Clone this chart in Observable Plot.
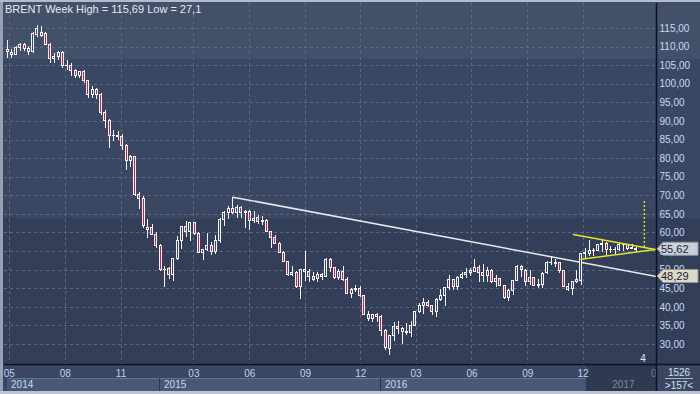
<!DOCTYPE html>
<html><head><meta charset="utf-8">
<script src="https://cdn.jsdelivr.net/npm/d3@7"></script>
<script src="https://cdn.jsdelivr.net/npm/@observablehq/plot@0.6"></script>
<style>
html,body{margin:0;padding:0;background:#3b4762;}
#chart{width:700px;height:394px;position:relative;overflow:hidden;}
svg{display:block;}
</style></head><body><div id="chart"></div>
<script>
// Weekly bars (Monday of each week)
const weeks = [
"2014-04-28","2014-05-05","2014-05-12","2014-05-19","2014-05-26","2014-06-02","2014-06-09","2014-06-16","2014-06-23","2014-06-30",
"2014-07-07","2014-07-14","2014-07-21","2014-07-28","2014-08-04","2014-08-11","2014-08-18","2014-08-25","2014-09-01","2014-09-08",
"2014-09-15","2014-09-22","2014-09-29","2014-10-06","2014-10-13","2014-10-20","2014-10-27","2014-11-03","2014-11-10","2014-11-17",
"2014-11-24","2014-12-01","2014-12-08","2014-12-15","2014-12-22","2014-12-29","2015-01-05","2015-01-12","2015-01-19","2015-01-26",
"2015-02-02","2015-02-09","2015-02-16","2015-02-23","2015-03-02","2015-03-09","2015-03-16","2015-03-23","2015-03-30","2015-04-06",
"2015-04-13","2015-04-20","2015-04-27","2015-05-04","2015-05-11","2015-05-18","2015-05-25","2015-06-01","2015-06-08","2015-06-15",
"2015-06-22","2015-06-29","2015-07-06","2015-07-13","2015-07-20","2015-07-27","2015-08-03","2015-08-10","2015-08-17","2015-08-24",
"2015-08-31","2015-09-07","2015-09-14","2015-09-21","2015-09-28","2015-10-05","2015-10-12","2015-10-19","2015-10-26","2015-11-02",
"2015-11-09","2015-11-16","2015-11-23","2015-11-30","2015-12-07","2015-12-14","2015-12-21","2015-12-28","2016-01-04","2016-01-11",
"2016-01-18","2016-01-25","2016-02-01","2016-02-08","2016-02-15","2016-02-22","2016-02-29","2016-03-07","2016-03-14","2016-03-21",
"2016-03-28","2016-04-04","2016-04-11","2016-04-18","2016-04-25","2016-05-02","2016-05-09","2016-05-16","2016-05-23","2016-05-30",
"2016-06-06","2016-06-13","2016-06-20","2016-06-27","2016-07-04","2016-07-11","2016-07-18","2016-07-25","2016-08-01","2016-08-08",
"2016-08-15","2016-08-22","2016-08-29","2016-09-05","2016-09-12","2016-09-19","2016-09-26","2016-10-03","2016-10-10","2016-10-17",
"2016-10-24","2016-10-31","2016-11-07","2016-11-14","2016-11-21","2016-11-28","2016-12-05","2016-12-12","2016-12-19","2016-12-26",
"2017-01-02","2017-01-09","2017-01-16","2017-01-23","2017-01-30","2017-02-06","2017-02-13","2017-02-20","2017-02-27"
];
const open = [
109.3,108.5,107.9,109.8,110.6,109.4,108.6,113.3,113.0,113.4,
110.6,106.7,107.2,108.4,104.8,105.0,103.5,102.3,103.2,100.8,
97.1,98.4,97.0,92.3,90.2,86.2,86.1,85.9,83.4,79.4,
80.4,70.1,69.1,60.9,61.4,59.5,56.4,50.1,50.2,48.8,
53.0,57.8,61.5,60.2,62.6,59.7,54.7,55.3,56.4,55.0,
57.9,63.4,65.3,66.5,65.4,66.8,65.4,65.6,63.3,63.9,
63.0,63.3,60.3,58.7,57.1,54.6,52.2,48.6,49.2,45.5,
50.1,49.6,48.1,47.5,48.6,48.1,52.7,50.5,48.0,49.6,
47.4,43.6,44.7,44.9,43.0,37.9,36.9,37.9,37.3,33.5,
28.9,32.2,34.7,34.1,33.4,33.0,35.1,38.7,40.4,41.2,
40.4,38.7,41.9,43.1,45.1,47.4,45.4,47.8,48.7,49.3,
49.6,50.5,49.2,48.4,49.7,46.8,47.6,45.7,42.5,44.3,
47.0,50.9,49.9,46.8,48.0,45.8,45.9,49.1,51.9,52.0,
51.8,49.7,45.6,44.8,46.9,47.2,54.5,54.3,55.2,55.2,
56.8,57.1,55.5,55.5,55.5,56.8,56.7,55.8,55.4
];
const high = [
111.8,109.3,110.2,111.0,111.0,110.1,114.0,115.69,115.5,113.9,
110.9,108.4,108.9,108.8,106.4,105.6,104.0,103.5,103.7,100.9,
99.4,98.9,97.5,93.0,90.5,87.6,87.2,86.4,83.8,80.9,
80.6,71.0,69.9,63.6,62.3,60.0,57.0,51.0,50.8,53.1,
59.1,61.7,63.0,62.9,62.9,60.0,55.6,59.8,57.4,59.2,
64.0,65.8,67.1,69.63,67.5,67.0,66.1,66.1,65.8,64.6,
64.4,63.6,60.3,59.3,57.4,54.9,52.3,51.0,49.6,50.2,
54.9,50.3,49.5,49.4,49.0,53.1,53.0,50.8,50.3,50.9,
48.0,45.1,46.0,45.6,43.1,38.9,38.2,38.3,37.9,34.0,
32.3,35.8,36.3,34.5,35.6,36.1,39.0,41.1,42.5,41.9,
40.6,42.4,44.8,45.3,48.5,47.5,48.2,49.4,50.5,50.4,
52.86,51.2,51.4,50.7,50.1,48.5,47.8,45.8,44.7,47.2,
51.2,51.2,50.2,49.9,48.1,47.6,49.3,52.3,53.73,52.9,
51.9,49.8,46.5,47.0,49.9,54.5,55.7,57.89,55.9,56.9,
58.37,57.4,56.4,56.2,57.3,57.1,57.0,56.8,56.1
];
const low = [
106.9,106.9,107.6,108.7,108.8,107.7,108.3,112.7,112.6,110.3,
105.7,105.6,106.3,104.3,103.6,102.1,101.5,101.6,100.3,96.2,
96.2,95.9,91.6,88.0,82.6,84.5,84.8,82.3,76.8,77.6,
69.8,66.4,61.3,58.5,59.3,55.7,49.7,45.2,47.5,47.0,
52.6,55.6,58.8,57.7,59.3,54.6,52.5,55.0,53.9,54.1,
57.2,61.8,63.6,64.9,63.9,63.9,61.3,60.7,62.5,62.4,
62.1,60.0,55.9,56.8,54.5,52.1,48.4,48.4,45.1,42.23,
47.0,46.6,46.9,46.6,47.1,48.0,49.4,47.4,47.1,47.0,
43.4,42.3,44.1,42.6,37.8,36.3,36.0,35.9,32.2,28.4,
27.10,30.8,32.6,30.0,32.5,32.0,34.8,38.3,38.0,39.9,
37.8,37.3,41.5,40.1,44.4,44.4,44.6,47.6,47.7,48.4,
49.4,46.7,46.7,46.6,46.4,45.3,45.5,42.0,41.5,43.3,
46.9,48.1,45.6,45.9,45.5,45.0,45.1,48.9,51.2,50.8,
49.2,45.2,44.2,43.1,46.3,46.0,53.1,53.7,53.8,55.1,
54.8,53.6,54.4,54.2,54.9,55.0,55.3,55.6,55.0
];
const close = [
108.59,107.89,109.75,110.54,109.41,108.61,113.41,114.81,113.9,110.64,
106.66,107.24,108.39,104.84,105.02,103.53,102.29,103.19,100.82,97.11,
98.39,97.00,92.31,90.21,86.16,86.13,85.86,83.39,79.41,80.36,
70.15,69.07,61.85,61.38,59.45,56.42,50.11,50.17,48.79,52.99,
57.80,61.52,60.22,62.58,59.73,54.67,55.32,56.41,54.95,57.87,
63.45,65.28,66.46,65.39,66.81,65.37,65.56,63.31,63.87,63.02,
63.26,60.32,58.73,57.10,54.62,52.21,48.61,49.19,45.46,50.05,
49.61,48.14,47.47,48.60,48.13,52.65,50.46,47.99,49.56,47.42,
43.61,44.66,44.86,43.00,37.93,36.88,37.89,37.28,33.55,28.94,
32.18,34.74,34.06,33.36,33.01,35.10,38.72,40.39,41.20,40.44,
38.67,41.94,43.10,45.11,47.37,45.37,47.83,48.72,49.32,49.64,
50.54,49.17,48.41,49.68,46.76,47.61,45.69,42.46,44.27,46.97,
50.88,49.92,46.83,48.01,45.77,45.89,49.06,51.93,51.95,51.78,
49.71,45.58,44.75,46.86,47.24,54.46,54.33,55.21,55.16,56.82,
57.10,55.45,55.49,55.52,56.81,56.70,55.81,56.01,55.62
];

const yTicks = [30,35,40,45,50,55,60,65,70,75,80,85,90,95,100,105,110,115];
const monthTicks = ["2014-05-01","2014-08-01","2014-11-01","2015-03-01","2015-06-01","2015-09-01","2015-12-01","2016-03-01","2016-06-01","2016-09-01","2016-12-01"];
const fadedMonthTicks = ["2017-04-01"];
const yearLabels = ["2014","2015","2016"];
const yearStarts = ["2014-04-28","2015-01-05","2016-01-04"];
const yearEnds = ["2015-01-05","2016-01-04","2016-12-08"];
const fadedYear = "2017";

const trendDates = ["2015-05-04","2017-04-01"];
const trendValues = [69.63, 48.29];
const triUpperDates = ["2016-11-15","2017-03-30"];
const triUpperValues = [59.6, 55.55];
const triLowerDates = ["2016-11-28","2017-03-30"];
const triLowerValues = [52.9, 55.55];
const targetDate = "2017-03-12";
const targetRange = [56.1, 68.7];
const lastPrice = 55.62;
const trendPrice = 48.29;

const title = "BRENT Week High = 115,69 Low = 27,1";

const rows = weeks.map((w, i) => ({date: new Date(w), open: open[i], high: high[i], low: low[i], close: close[i]}));
const trendRows = trendDates.map((d, i) => ({date: new Date(d), v: trendValues[i]}));
const triRows = [
  ...triUpperDates.map((d, i) => ({date: new Date(d), v: triUpperValues[i], s: "u"})),
  ...triLowerDates.map((d, i) => ({date: new Date(d), v: triLowerValues[i], s: "l"}))
];
const targetRows = [{date: new Date(targetDate), lo: targetRange[0], hi: targetRange[1]}];

const fmt = d => d.toFixed(2).replace(".", ",");
const FONT = "'Liberation Sans', Arial, sans-serif";

const plot = Plot.plot({
  width: 700, height: 394,
  marginLeft: 4, marginRight: 44, marginTop: 3, marginBottom: 30,
  x: {type: "utc", domain: [new Date("2014-04-23"), new Date("2017-04-01")]},
  y: {domain: [24.62, 121.72]},
  color: {type: "identity"},
  style: {
    background: "linear-gradient(to bottom, #435069 0px, #435069 59px, #3a4763 59px, #3a4763 218px, #333f59 218px, #333f59 364px, #3b4762 364px, #3b4762 394px)",
    fontFamily: FONT, fontSize: "10px", color: "#c7dbf3", overflow: "visible"
  },
  marks: [
    Plot.gridY({ticks: yTicks, stroke: "#5b6884", strokeOpacity: 1, strokeDasharray: "3,3", shapeRendering: "crispEdges"}),
    Plot.gridX({ticks: [...monthTicks, ...fadedMonthTicks].map(d => new Date(d)), stroke: "#5b6884", strokeOpacity: 1, strokeDasharray: "3,3", shapeRendering: "crispEdges"}),
    Plot.line(trendRows, {x: "date", y: "v", stroke: "#e6e9ee", strokeWidth: 1.5}),
    Plot.ruleX(rows, {x: "date", y1: "low", y2: "high", stroke: "#f4f6fa", strokeWidth: 1, shapeRendering: "crispEdges"}),
    Plot.rect(rows, {x1: "date", x2: "date", y1: "open", y2: "close", insetLeft: -1, insetRight: -1,
      fill: d => d.close >= d.open ? "#3a4763" : "#e8123c", stroke: "#f4f6fa", strokeWidth: 1, shapeRendering: "crispEdges"}),
    Plot.line(triRows, {x: "date", y: "v", z: "s", stroke: "#e4e42a", strokeWidth: 1.5}),
    Plot.ruleX(targetRows, {x: "date", y1: "lo", y2: "hi", stroke: "#d8d820", strokeWidth: 1.5, strokeDasharray: "2,2"}),
    Plot.axisY({ticks: yTicks, anchor: "right", tickSize: 0, tickPadding: 3, textAnchor: "start",
      tickFormat: fmt, fill: "#c7dbf3", fontSize: 10}),
    Plot.axisX({ticks: monthTicks.map(d => new Date(d)), anchor: "bottom", tickSize: 0, tickPadding: 5,
      tickFormat: d3.utcFormat("%m"), fill: "#bcd4ee", fontSize: 10}),
    Plot.axisX({ticks: fadedMonthTicks.map(d => new Date(d)), anchor: "bottom", tickSize: 0, tickPadding: 5,
      tickFormat: d3.utcFormat("%m"), fill: "#6f7d98", fontSize: 10})
  ]
});

const svg = d3.select(plot);
const xs = plot.scale("x"), ys = plot.scale("y");
const X = d => xs.apply(new Date(d));

// dark inactive area behind the last months (under axis labels)
svg.insert("rect", ":first-child").attr("x", X(yearEnds[2])).attr("y", 365).attr("width", 656 - X(yearEnds[2])).attr("height", 27).attr("fill", "#2e3953");

const g = svg.append("g").style("font-family", FONT).attr("text-anchor", "start");

// year boxes
yearLabels.forEach((yr, i) => {
  const x0 = X(yearStarts[i]), x1 = X(yearEnds[i]);
  g.append("rect").attr("x", x0).attr("y", 378).attr("width", x1 - x0).attr("height", 13).attr("fill", "#4a5877");
  g.append("line").attr("x1", x0).attr("x2", x1).attr("y1", 378.5).attr("y2", 378.5).attr("stroke", "#64718e");
  g.append("line").attr("x1", x1 - 0.5).attr("x2", x1 - 0.5).attr("y1", 378).attr("y2", 391).attr("stroke", "#2c3750");
  g.append("text").attr("x", x0 + 4).attr("y", 388).attr("text-anchor", "start").attr("fill", "#c4d8f0").attr("font-size", 10).text(yr);
});
g.append("text").attr("x", (X(yearEnds[2]) + 656) / 2 + 2).attr("y", 388).attr("text-anchor", "middle")
  .attr("fill", "#7e8aa2").attr("font-size", 10).text(fadedYear);

// right-bottom panel
g.append("rect").attr("x", 657).attr("y", 365).attr("width", 43).attr("height", 27).attr("fill", "#3b4762");
g.append("text").attr("x", 679).attr("y", 376).attr("text-anchor", "middle").attr("fill", "#d4e0f0").attr("font-size", 10).text("1526");
g.append("line").attr("x1", 665).attr("x2", 693).attr("y1", 378.5).attr("y2", 378.5).attr("stroke", "#a9b5c8");
g.append("text").attr("x", 679).attr("y", 388.5).attr("text-anchor", "middle").attr("fill", "#d4e0f0").attr("font-size", 10).text(">157<");

// separators
g.append("line").attr("x1", 4).attr("x2", 700).attr("y1", 364.5).attr("y2", 364.5).attr("stroke", "#0d1220").attr("stroke-width", 1.5);
g.append("line").attr("x1", 656.5).attr("x2", 656.5).attr("y1", 3).attr("y2", 394).attr("stroke", "#0d1220").attr("stroke-width", 1.5);

// price label boxes
function priceBox(v, fill, stroke) {
  const yy = ys.apply(v);
  g.append("polygon")
    .attr("points", `657,${yy} 663,${yy - 6.5} 698,${yy - 6.5} 698,${yy + 6.5} 663,${yy + 6.5}`)
    .attr("fill", fill).attr("stroke", stroke);
  g.append("text").attr("x", 661).attr("y", yy + 4).attr("text-anchor", "start").attr("fill", "#1a2236").attr("font-size", 11).text(fmt(v));
}
priceBox(lastPrice, "#cbd0d8", "#8d95a5");
priceBox(trendPrice, "#dadac6", "#9a9a86");

// small counter
g.append("text").attr("x", 643).attr("y", 362).attr("text-anchor", "middle").attr("fill", "#e2e8f2").attr("font-size", 10).text("4");

// title
g.append("text").attr("x", 5).attr("y", 12.5).attr("text-anchor", "start").attr("fill", "#e6eaf2").attr("font-size", 11).text(title);

// window frame
g.append("rect").attr("x", 0).attr("y", 0).attr("width", 3).attr("height", 394).attr("fill", "#98a1b3");
g.append("rect").attr("x", 0).attr("y", 0).attr("width", 700).attr("height", 2).attr("fill", "#b4bcc9");
g.append("rect").attr("x", 0).attr("y", 391).attr("width", 700).attr("height", 3).attr("fill", "#bfc5d0");

document.getElementById("chart").appendChild(plot);
</script>
</body></html>
